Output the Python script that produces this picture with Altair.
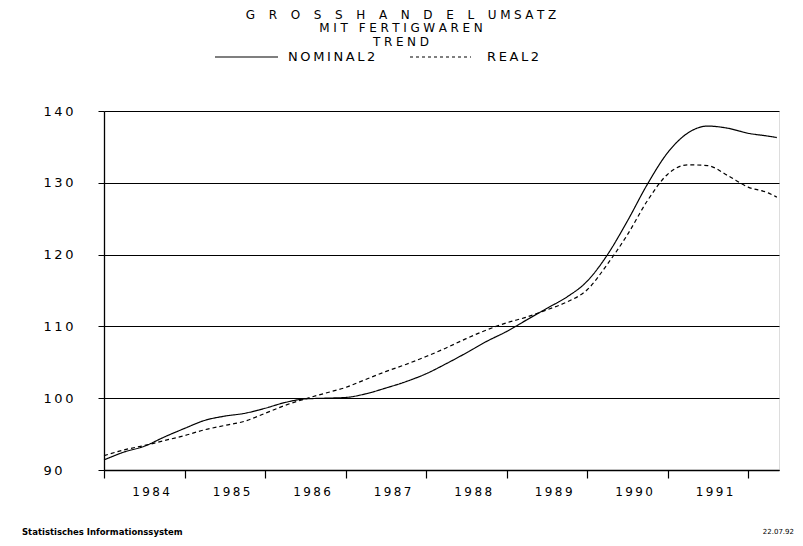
import altair as alt
import pandas as pd

# quarterly trend readings
dates = [
    "1984/01/01", "1984/04/01", "1984/07/01", "1984/10/01",
    "1985/01/01", "1985/04/01", "1985/07/01", "1985/10/01",
    "1986/01/01", "1986/04/01", "1986/07/01", "1986/10/01",
    "1987/01/01", "1987/04/01", "1987/07/01", "1987/10/01",
    "1988/01/01", "1988/04/01", "1988/07/01", "1988/10/01",
    "1989/01/01", "1989/04/01", "1989/07/01", "1989/10/01",
    "1990/01/01", "1990/04/01", "1990/07/01", "1990/10/01",
    "1991/01/01", "1991/04/01", "1991/07/01", "1991/10/01",
    "1992/01/01", "1992/04/01", "1992/05/10",
]
nominal = [91.4, 92.5, 93.3, 94.6, 95.8, 96.9, 97.5, 97.9, 98.6, 99.4, 99.9, 100.0,
           100.1, 100.6, 101.4, 102.3, 103.4, 104.8, 106.3, 107.9, 109.3, 110.9, 112.5, 114.1,
           116.3, 119.9, 124.6, 129.8, 134.2, 136.9, 137.9, 137.6, 136.9, 136.5, 136.3]
real = [92.0, 92.8, 93.4, 94.1, 94.8, 95.6, 96.2, 96.8, 97.9, 99.0, 99.9, 100.7,
        101.5, 102.6, 103.7, 104.7, 105.8, 107.0, 108.3, 109.5, 110.5, 111.3, 112.3, 113.4,
        115.1, 118.6, 122.7, 127.5, 131.2, 132.5, 132.4, 131.0, 129.4, 128.6, 128.0]
series_names = ["NOMINAL2", "REAL2"]
years = [1984, 1985, 1986, 1987, 1988, 1989, 1990, 1991]
y_ticks = [90, 100, 110, 120, 130, 140]
tick_years = [1984, 1985, 1986, 1987, 1988, 1989, 1990, 1991, 1992]

FONT = "DejaVu Sans"
TS = "\u2009"
MID = "\u2009\u200a"
WIDE = "\u2007\u2002"


def spaced(s, sep=TS):
    return sep.join(list(s))


df = pd.DataFrame({
    "date": dates * 2,
    "value": nominal + real,
    "series": [series_names[0]] * len(dates) + [series_names[1]] * len(dates),
})
year_df = pd.DataFrame({
    "date": [f"{y}/07/01" for y in years],
    "label": [spaced(str(y)) for y in years],
})

W, H = 675, 359

x_scale = alt.Scale(domain=[alt.DateTime(year=1984, month=1, date=1),
                            alt.DateTime(year=1992, month=5, date=20)])
y_scale = alt.Scale(domain=[90, 140], nice=False, zero=False)

lines = alt.Chart(df).mark_line(color="black", strokeWidth=1.2, interpolate="monotone").encode(
    x=alt.X("date:T", scale=x_scale, title=None,
            axis=alt.Axis(values=[alt.DateTime(year=y, month=1, date=1) for y in tick_years],
                          labels=False, tickSize=8, grid=False, domainColor="black",
                          tickColor="black", domainWidth=1.3, tickWidth=1.2)),
    y=alt.Y("value:Q", scale=y_scale, title=None,
            axis=alt.Axis(values=y_ticks, grid=True, gridColor="black", gridWidth=1.2,
                          gridOpacity=1, tickSize=6, tickColor="black", domainColor="black",
                          domainWidth=1.3, labelAlign="left", labelPadding=55,
                          labelFontSize=13, labelFont=FONT, labelColor="black",
                          labelExpr="join(split(datum.label, ''), '\u2009')")),
    strokeDash=alt.StrokeDash("series:N", scale=alt.Scale(domain=series_names,
                                                          range=[[1, 0], [4, 3]]),
                              legend=None),
    detail="series:N",
)

year_labels = alt.Chart(year_df).mark_text(font=FONT, fontSize=12, color="black",
                                           baseline="middle", align="center", dx=7).encode(
    x=alt.X("date:T", scale=x_scale),
    y=alt.value(H + 22),
    text="label:N",
)

one = alt.Data(values=[{}])


def txt(text, x, y, size=13, align="center", weight="normal"):
    return alt.Chart(one).mark_text(text=text, font=FONT, fontSize=size, color="black",
                                    align=align, baseline="middle", fontWeight=weight).encode(
        x=alt.value(x), y=alt.value(y))


title1 = txt(spaced("GROSSHANDEL", WIDE) + WIDE + spaced("UMSATZ", MID),
             297, -96, size=12)
title2 = txt(spaced("MIT FERTIGWAREN", MID), 297, -83, size=12)
title3 = txt(spaced("TREND", MID), 297, -69, size=12)

leg_solid = alt.Chart(one).mark_rule(color="black", strokeWidth=1.2).encode(
    x=alt.value(111), x2=alt.value(174), y=alt.value(-54))
leg_dash = alt.Chart(one).mark_rule(color="black", strokeWidth=1.2, strokeDash=[3, 3]).encode(
    x=alt.value(306), x2=alt.value(367), y=alt.value(-54))
leg_t1 = txt(spaced("NOMINAL2"), 184, -54, align="left")
leg_t2 = txt(spaced("REAL2"), 383, -54, align="left")

foot1 = txt("Statistisches Informationssystem", -82, 421, size=8.5, align="left", weight="bold")
foot2 = txt("22.07.92", 690, 421, size=7, align="right")

chart = alt.layer(
    lines, year_labels, title1, title2, title3, leg_solid, leg_dash, leg_t1, leg_t2, foot1, foot2
).properties(
    width=W, height=H,
    autosize=alt.AutoSizeParams(type="none"),
    padding={"left": 96, "top": 103, "right": 16, "bottom": 68},
).configure_view(
    stroke="black", strokeWidth=1.3
).configure(background="white")

chart.save("out.html", embed_options={"renderer": "svg", "actions": False})
